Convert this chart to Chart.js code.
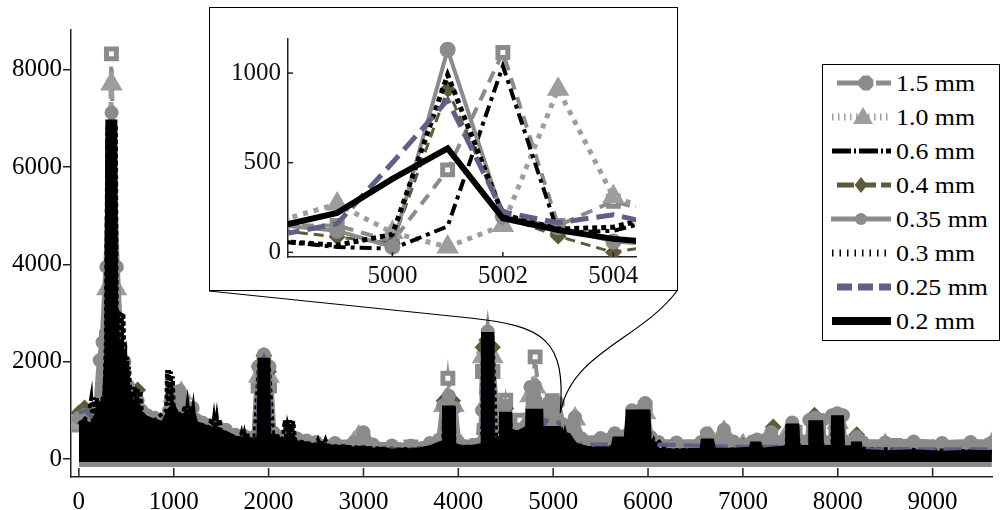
<!DOCTYPE html>
<html>
<head>
<meta charset="utf-8">
<script src="https://cdn.jsdelivr.net/npm/chart.js@4.4.1/dist/chart.umd.min.js"></script>
<style>
  body { margin: 0; background: #fff; }
  #wrap { position: relative; width: 1005px; height: 510px; overflow: hidden; }
  #main { position: absolute; left: 0; top: 0; }
  #insetBox { position: absolute; left: 209px; top: 7px; width: 469px; height: 284px;
              border: 1.5px solid #000; box-sizing: border-box; background: #fff; }
  #inset { position: absolute; left: 0; top: 0; }
  #legend { position: absolute; left: 822px; top: 64px; width: 178px; height: 277px;
            border: 1.5px solid #000; box-sizing: border-box; background: #fff;
            font-family: "Liberation Serif", serif; font-size: 24px; color: #000; }
  #legend canvas { position: absolute; left: 8px; }
  #legend span { position: absolute; left: 73px; height: 30px; line-height: 30px; white-space: nowrap;
                 transform-origin: 0 50%; }
</style>
</head>
<body>
<div id="wrap">
  <canvas id="main" width="1005" height="510"></canvas>
  <div id="insetBox"><canvas id="inset" width="466" height="281"></canvas></div>
  <div id="legend"></div>
</div>
<script>
// tick labels
const xTicks = [0, 1000, 2000, 3000, 4000, 5000, 6000, 7000, 8000, 9000];
const yTicks = [0, 2000, 4000, 6000, 8000];
const insetXTicks = [5000, 5002, 5004];
const insetYTicks = [0, 500, 1000];

const labels = ['1.5 mm', '1.0 mm', '0.6 mm', '0.4 mm', '0.35 mm', '0.3 mm', '0.25 mm', '0.2 mm'];

// inset (zoom on 4998..5005)
const insetX = [4998, 4999, 5000, 5001, 5002, 5003, 5004, 5005];
const in15  = [150, 150, 60, 460, 1115, 150, 285, 200];
const in10  = [180, 270, 110, 30, 150, 910, 310, 200];
const in06  = [60, 30, 20, 145, 1040, 110, 120, 200];
const in04  = [120, 86, 50, 910, 200, 90, 0, 50];
const in035 = [150, 120, 30, 1130, 200, 140, 60, 40];
const in03  = [60, 40, 100, 990, 210, 130, 140, 220];
const in025 = [100, 160, 500, 850, 225, 165, 210, 140];
const in02  = [150, 220, 410, 580, 190, 125, 75, 50];

// main spectrum, [frequency, amplitude]
const main15 = [[0,700],[100,750],[200,900],[260,1100],[290,2500],[343,8330],[395,2800],[420,2000],[500,1200],[600,1000],[700,750],[950,800],[1000,900],[1050,800],[1300,600],[1600,450],[1850,420],[1890,1500],[1950,1950],[2010,1500],[2050,400],[2600,250],[3000,350],[3500,250],[3820,350],[3890,1660],[3960,350],[4200,280],[4255,1800],[4300,2300],[4365,1800],[4400,400],[4440,500],[4500,1210],[4560,500],[4600,500],[4646,800],[4700,500],[4740,600],[4810,2100],[4880,600],[4920,700],[4990,1200],[5060,700],[5100,550],[5300,300],[5850,400],[5900,700],[5970,1050],[6030,300],[7000,280],[7450,300],[7550,550],[7650,300],[7950,300],[8000,650],[8060,300],[8600,280],[9625,280]];
const main10 = [[0,750],[200,900],[270,1200],[300,3500],[343,7710],[390,3500],[420,2000],[500,1200],[700,750],[920,800],[1000,1300],[1080,1350],[1150,800],[1500,550],[1880,450],[1900,1700],[1950,1900],[2000,1700],[2020,350],[2900,330],[2950,450],[3050,300],[3820,300],[3850,1100],[3890,1250],[3950,1100],[3970,300],[4250,300],[4260,2100],[4300,2300],[4360,2100],[4380,350],[4440,400],[4500,950],[4560,450],[4700,650],[4760,1300],[4810,1480],[4870,1000],[4900,550],[4950,900],[5000,950],[5050,700],[5150,450],[5230,820],[5300,350],[5880,350],[5970,950],[6040,280],[6600,300],[6650,420],[6700,300],[6750,400],[6800,550],[6850,300],[7000,280],[7450,300],[7500,620],[7580,300],[7950,300],[8000,750],[8060,300],[8500,280],[9625,300]];
const main06 = [[0,700],[100,800],[200,1000],[260,1200],[285,2100],[300,6500],[380,6500],[400,2600],[500,1800],[600,1100],[700,800],[900,800],[940,1400],[960,1500],[1000,1000],[1100,900],[1200,700],[1400,600],[1600,450],[1880,400],[1900,2000],[2000,2000],[2020,400],[2180,400],[2200,700],[2240,400],[2300,350],[2600,350],[3000,250],[3500,200],[3840,250],[3850,1000],[3950,1000],[3960,250],[4250,250],[4260,2500],[4350,2500],[4360,350],[4440,350],[4450,900],[4540,900],[4560,500],[4720,500],[4730,950],[4870,950],[4900,500],[4920,600],[5060,600],[5150,500],[5300,250],[5780,300],[5790,950],[6000,950],[6020,300],[6600,350],[7000,230],[7460,250],[7470,650],[7570,650],[7590,250],[7710,250],[7720,700],[7820,700],[7840,250],[7950,250],[7960,800],[8040,800],[8060,250],[8150,250],[8160,300],[8240,300],[8400,150],[9625,150]];
const main04 = [[0,950],[60,1050],[200,950],[270,1300],[300,2300],[340,4000],[380,2000],[450,1500],[560,1380],[620,1420],[700,850],[1000,950],[1300,600],[1600,430],[1870,420],[1900,1900],[1950,2130],[2000,1800],[2030,380],[2500,280],[3000,330],[3500,250],[3820,330],[3850,1200],[3890,1280],[3940,1200],[3960,300],[4250,300],[4260,2300],[4300,2450],[4360,2300],[4380,380],[4440,400],[4500,1040],[4560,480],[4740,480],[4800,1250],[4870,480],[4950,500],[5000,850],[5060,500],[5200,330],[5800,380],[5880,400],[5950,900],[6020,280],[6600,280],[7000,280],[7260,300],[7320,660],[7380,300],[7700,300],[7755,900],[7820,300],[7950,300],[8000,800],[8060,300],[8150,300],[8200,500],[8250,250],[9000,240],[9625,240]];
const main035 = [[0,850],[60,900],[120,800],[180,950],[220,2030],[250,2400],[290,3950],[345,7120],[400,3950],[440,2300],[480,2000],[520,1500],[560,1250],[620,1200],[660,1000],[720,900],[800,850],[880,800],[950,1000],[1000,1350],[1060,1400],[1100,1200],[1150,1000],[1200,1050],[1240,800],[1300,750],[1380,700],[1450,650],[1550,600],[1650,500],[1750,470],[1850,450],[1890,1900],[1950,2150],[2010,1900],[2050,550],[2130,450],[2200,500],[2300,420],[2400,380],[2500,350],[2700,330],[2900,350],[3000,550],[3100,300],[3300,280],[3500,270],[3700,330],[3800,400],[3840,1100],[3900,1300],[3960,1050],[4000,350],[4240,330],[4250,1000],[4255,1830],[4310,2620],[4365,1830],[4400,1000],[4440,550],[4500,1100],[4550,800],[4620,600],[4720,700],[4760,1480],[4810,1500],[4880,1000],[4915,700],[4950,1150],[5050,1150],[5100,700],[5230,860],[5300,420],[5500,430],[5650,530],[5760,480],[5830,1000],[5970,1150],[6030,450],[6110,350],[6300,340],[6560,350],[6620,530],[6700,350],[6800,600],[6900,360],[7100,360],[7150,400],[7300,550],[7400,350],[7520,750],[7600,380],[7690,380],[7700,800],[7760,850],[7840,800],[7850,360],[7930,360],[7940,900],[7995,940],[8055,900],[8060,380],[8200,450],[8260,350],[8500,340],[8800,360],[9100,330],[9400,350],[9625,340]];
const main03 = [[0,700],[100,900],[130,1250],[145,700],[160,1270],[175,700],[190,1250],[205,800],[220,1200],[235,900],[250,1250],[270,1300],[285,2500],[300,6800],[390,6800],[400,2500],[410,3050],[420,2200],[430,3050],[440,2200],[450,3000],[460,2100],[470,3000],[480,2000],[490,2100],[500,1600],[510,2100],[520,1500],[530,1900],[545,1200],[560,1480],[575,1100],[590,1480],[605,1100],[620,1450],[635,1050],[650,1400],[665,950],[700,850],[800,800],[920,1000],[930,1830],[940,1100],[950,1830],[960,1100],[970,1800],[980,1100],[990,1700],[1000,1000],[1050,900],[1100,950],[1115,1100],[1130,850],[1145,1100],[1160,850],[1175,1100],[1190,850],[1205,1050],[1220,750],[1300,700],[1380,650],[1395,840],[1410,600],[1425,840],[1440,600],[1455,840],[1470,600],[1485,820],[1500,550],[1600,480],[1700,420],[1715,530],[1730,400],[1745,530],[1760,400],[1775,530],[1790,400],[1850,400],[1900,2000],[2000,2000],[2050,450],[2150,420],[2170,800],[2185,400],[2200,800],[2215,400],[2230,800],[2245,400],[2260,780],[2280,380],[2400,330],[2500,300],[2520,390],[2540,280],[2560,390],[2580,280],[2600,390],[2620,280],[2800,250],[3100,220],[3500,200],[3840,250],[3850,1000],[3950,1000],[3960,250],[4250,250],[4260,2500],[4360,2500],[4400,350],[4440,350],[4450,900],[4540,900],[4560,550],[4740,550],[4750,950],[4850,950],[4900,450],[5000,600],[5080,450],[5095,530],[5110,400],[5125,530],[5140,400],[5155,530],[5170,400],[5300,220],[5790,250],[5800,950],[5860,950],[5920,950],[6000,950],[6020,390],[6040,300],[6060,390],[6080,300],[6100,390],[6200,180],[7000,200],[7460,220],[7470,680],[7560,680],[7600,220],[7940,220],[7950,850],[8040,850],[8060,220],[9625,150]];
const main025 = [[0,950],[80,1000],[150,800],[270,1000],[300,2000],[345,6000],[395,2000],[450,1000],[500,700],[550,600],[700,500],[1000,600],[1100,400],[1300,350],[1880,350],[1900,1900],[1950,2100],[2000,1900],[2020,300],[3000,200],[3830,200],[3850,900],[3950,900],[3970,250],[4250,250],[4260,2300],[4360,2300],[4370,300],[4440,300],[4450,900],[4540,900],[4560,300],[4720,400],[4730,950],[4870,950],[4890,500],[4920,800],[5060,750],[5100,300],[5880,300],[5900,980],[6000,980],[6020,300],[7000,250],[7700,250],[7710,750],[7830,750],[7850,250],[7940,250],[7950,850],[8040,850],[8060,200],[9625,200]];
const main02 = [[0,750],[60,800],[120,700],[180,900],[220,1100],[260,1200],[285,2200],[295,6950],[390,6950],[398,2600],[440,2300],[480,2000],[520,1500],[560,1200],[620,1150],[660,950],[720,850],[800,800],[880,750],[920,900],[960,1050],[1000,1100],[1040,950],[1100,900],[1150,1000],[1200,1050],[1240,750],[1300,700],[1380,650],[1450,600],[1550,550],[1650,450],[1750,420],[1850,400],[1890,450],[1900,2050],[2000,2050],[2010,500],[2100,480],[2130,350],[2200,450],[2260,480],[2300,350],[2400,330],[2500,280],[2600,300],[2700,250],[2800,270],[2900,220],[3000,250],[3100,200],[3200,220],[3300,180],[3400,200],[3500,190],[3600,210],[3700,250],[3800,330],[3840,350],[3845,1070],[3955,1070],[3960,300],[4050,250],[4150,260],[4250,300],[4255,2580],[4365,2580],[4370,400],[4440,450],[4445,940],[4550,940],[4555,600],[4620,550],[4720,650],[4725,1000],[4880,1000],[4885,450],[4915,650],[5070,650],[5100,550],[5170,500],[5240,300],[5400,220],[5620,230],[5640,430],[5760,430],[5780,985],[5880,985],[5890,450],[5900,985],[6010,985],[6020,390],[6110,200],[6300,180],[6560,200],[6570,390],[6680,390],[6700,200],[6900,200],[7080,220],[7090,330],[7180,330],[7200,200],[7460,250],[7465,700],[7580,700],[7590,250],[7700,260],[7705,765],[7830,765],[7840,250],[7940,260],[7945,870],[8050,870],[8060,250],[8150,250],[8155,330],[8240,330],[8250,180],[8500,150],[8800,170],[9100,140],[9400,160],[9625,150]];

const zoomAt = [5075, 950]; // where the inset connectors meet

const gray = '#8b8b8b', lgray = '#9d9d9d', olive = '#5d5b3a', slate = '#5f6184';
const styles = [
  { color: gray,   dash: [12, 8],        lw: 4, pt: 'rect',     r: 7,  pbg: '#fff', pbw: 5 },
  { color: lgray,  dash: [5, 6],         lw: 5, pt: 'triangle', r: 11, pbg: lgray,  pbw: 2 },
  { color: '#000', dash: [12, 5, 4, 5],  lw: 4, pt: 'circle',   r: 0,  pbg: '#000', pbw: 0 },
  { color: olive,  dash: [10, 6],        lw: 3, pt: 'rectRot',  r: 7,  pbg: olive,  pbw: 2 },
  { color: gray,   dash: [],             lw: 4, pt: 'circle',   r: 7,  pbg: gray,   pbw: 2 },
  { color: '#000', dash: [5, 4],         lw: 5, pt: 'circle',   r: 0,  pbg: '#000', pbw: 0 },
  { color: slate,  dash: [18, 8],        lw: 5, pt: 'circle',   r: 0,  pbg: slate,  pbw: 0 },
  { color: '#000', dash: [],             lw: 6, pt: 'circle',   r: 0,  pbg: '#000', pbw: 0 }
];

const font = { family: '"Liberation Serif", serif', size: 25 };

const innerTicks = {
  id: 'innerTicks',
  afterDraw(chart, args, o) {
    const { ctx, chartArea: a, scales: { x, y } } = chart;
    ctx.save();
    ctx.strokeStyle = '#222';
    ctx.lineWidth = 1.5;
    if (o.x) x.ticks.forEach(t => {
      const p = x.getPixelForValue(t.value);
      ctx.beginPath(); ctx.moveTo(p, a.bottom); ctx.lineTo(p, a.bottom - o.x); ctx.stroke();
    });
    if (o.y) y.ticks.forEach(t => {
      const p = y.getPixelForValue(t.value);
      ctx.beginPath(); ctx.moveTo(a.left, p); ctx.lineTo(a.left + o.y, p); ctx.stroke();
    });
    ctx.restore();
  }
};

const connectors = {
  id: 'connectors',
  afterDraw(chart) {
    const { ctx, scales: { x, y } } = chart;
    const ex = x.getPixelForValue(zoomAt[0]), ey = y.getPixelForValue(zoomAt[1]);
    ctx.save();
    ctx.strokeStyle = '#000';
    ctx.lineWidth = 1.2;
    ctx.beginPath();
    ctx.moveTo(209, 291);
    ctx.lineTo(470, 318);
    ctx.bezierCurveTo(545, 326, 566, 340, ex, ey);
    ctx.stroke();
    ctx.beginPath();
    ctx.moveTo(677, 291);
    ctx.bezierCurveTo(640, 340, 572, 352, ex, ey);
    ctx.stroke();
    ctx.restore();
  }
};

function dataset(i, points, isMain) {
  const s = styles[i];
  const d = {
    label: labels[i],
    data: points,
    borderColor: s.color,
    borderWidth: s.lw,
    borderDash: s.dash,
    pointStyle: s.pt,
    pointRadius: s.r,
    pointBackgroundColor: s.pbg,
    pointBorderColor: s.color,
    pointBorderWidth: s.pbw,
    tension: 0,
    fill: false,
    order: i === 7 ? 0 : 8 - i
  };
  if (isMain) {
    if (i === 7) { d.fill = { value: -60 }; d.backgroundColor = '#000'; d.borderWidth = 3; }
    if (i === 4) { d.fill = { value: -165 }; d.backgroundColor = gray; d.borderWidth = 6; d.pointRadius = 6; }
    if (i === 5) { d.borderWidth = 4; d.borderDash = [4, 3]; }
    if (i === 6) { d.borderWidth = 4; }
  }
  return d;
}

const toXY = arr => arr.map(p => ({ x: p[0], y: p[1] }));
const insetXY = arr => arr.map((v, k) => ({ x: insetX[k], y: v }));

const mainSeries = [main15, main10, main06, main04, main035, main03, main025, main02];
const insetSeries = [in15, in10, in06, in04, in035, in03, in025, in02];

new Chart(document.getElementById('main'), {
  type: 'line',
  data: { datasets: mainSeries.map((s, i) => dataset(i, toXY(s), true)) },
  options: {
    responsive: false, animation: false, events: [],
    layout: { padding: { top: 30, left: 0, right: 0, bottom: 0 } },
    plugins: { legend: { display: false }, tooltip: { enabled: false }, innerTicks: { x: 9 } },
    scales: {
      x: {
        type: 'linear', min: -83, max: 9626,
        afterBuildTicks: s => { s.ticks = xTicks.map(v => ({ value: v })); },
        afterFit: s => { s.height = 33; },
        grid: { display: false },
        border: { color: '#222', width: 1.5 },
        ticks: { font, color: '#000', padding: 2, autoSkip: false, maxRotation: 0, callback: v => String(v) }
      },
      y: {
        min: -370, max: 8820,
        afterBuildTicks: s => { s.ticks = yTicks.map(v => ({ value: v })); },
        afterFit: s => { s.width = 71; },
        grid: { drawOnChartArea: false, drawTicks: true, tickLength: 8, color: '#222', lineWidth: 1.5 },
        border: { color: '#222', width: 1.5 },
        ticks: { font, color: '#000', padding: 1, autoSkip: false, callback: v => String(v) }
      }
    }
  },
  plugins: [innerTicks, connectors]
});

new Chart(document.getElementById('inset'), {
  type: 'line',
  data: { datasets: insetSeries.map((s, i) => dataset(i, insetXY(s), false)) },
  options: {
    responsive: false, animation: false, events: [],
    layout: { padding: { top: 31, left: 0, right: 40, bottom: 0 } },
    plugins: { legend: { display: false }, tooltip: { enabled: false }, innerTicks: { x: 5, y: 5 } },
    scales: {
      x: {
        type: 'linear', min: 4998.11, max: 5004.41,
        afterBuildTicks: s => { s.ticks = insetXTicks.map(v => ({ value: v })); },
        afterFit: s => { s.height = 32; },
        grid: { display: false, drawTicks: false },
        border: { color: '#222', width: 1.5 },
        ticks: { font, color: '#111', padding: 4, autoSkip: false, maxRotation: 0, callback: v => String(v) }
      },
      y: {
        min: -26, max: 1190,
        afterBuildTicks: s => { s.ticks = insetYTicks.map(v => ({ value: v })); },
        afterFit: s => { s.width = 78; },
        grid: { display: false, drawTicks: false },
        border: { color: '#222', width: 1.5 },
        ticks: { font, color: '#111', padding: 7, autoSkip: false, callback: v => String(v) }
      }
    }
  },
  plugins: [innerTicks]
});

// legend with drawn line samples
const legendSamples = [
  { x0: 6, x1: 60, dash: [22, 17], lw: 5, m: 'oct', mx: 35, mr: 8 },
  { x0: 1, x1: 60, dash: [1.5, 4.5], lw: 7, m: 'tri', mx: 32, mr: 10 },
  { x0: 1, x1: 60, dash: [19, 3, 2, 3], lw: 5 },
  { x0: 6, x1: 60, dash: [17, 5], lw: 5, m: 'dia', mx: 30, mr: 8 },
  { x0: 0, x1: 60, dash: [], lw: 5, m: 'circle', mx: 30, mr: 6 },
  { x0: 1, x1: 60, dash: [1.5, 6], lw: 7 },
  { x0: 6, x1: 60, dash: [15, 6], lw: 7 },
  { x0: 1, x1: 60, dash: [], lw: 8 }
];
const legend = document.getElementById('legend');
const spans = [];
labels.forEach((lab, i) => {
  const cy = 83 + i * 34 - 65.5;
  const cv = document.createElement('canvas');
  cv.width = 64; cv.height = 22;
  cv.style.top = (cy - 11) + 'px';
  legend.appendChild(cv);
  const c = cv.getContext('2d');
  const s = legendSamples[i], col = styles[i].color;
  c.strokeStyle = col; c.fillStyle = col; c.lineWidth = s.lw; c.setLineDash(s.dash);
  c.beginPath(); c.moveTo(s.x0, 11); c.lineTo(s.x1, 11); c.stroke();
  c.setLineDash([]);
  if (s.m) {
    const r = s.mr, x = s.mx, y = 11;
    c.beginPath();
    if (s.m === 'circle') c.arc(x, y, r, 0, Math.PI * 2);
    if (s.m === 'oct') { for (let k = 0; k < 8; k++) { const a = Math.PI / 8 + k * Math.PI / 4; c.lineTo(x + r * Math.cos(a), y + r * Math.sin(a)); } }
    if (s.m === 'tri') { c.moveTo(x, y - r); c.lineTo(x + r, y + r * 0.7); c.lineTo(x - r, y + r * 0.7); }
    if (s.m === 'dia') { c.moveTo(x, y - r); c.lineTo(x + r * 0.8, y); c.lineTo(x, y + r); c.lineTo(x - r * 0.8, y); }
    c.closePath(); c.fill();
  }
  const sp = document.createElement('span');
  sp.textContent = lab;
  sp.style.top = (cy - 15) + 'px';
  legend.appendChild(sp);
  spans.push(sp);
});
// the original legend lettering is wider than the font; stretch so "1.5 mm" spans ~79px
const stretch = 79 / spans[0].getBoundingClientRect().width;
spans.forEach(sp => { sp.style.transform = 'scaleX(' + stretch.toFixed(3) + ')'; });
</script>
</body>
</html>
